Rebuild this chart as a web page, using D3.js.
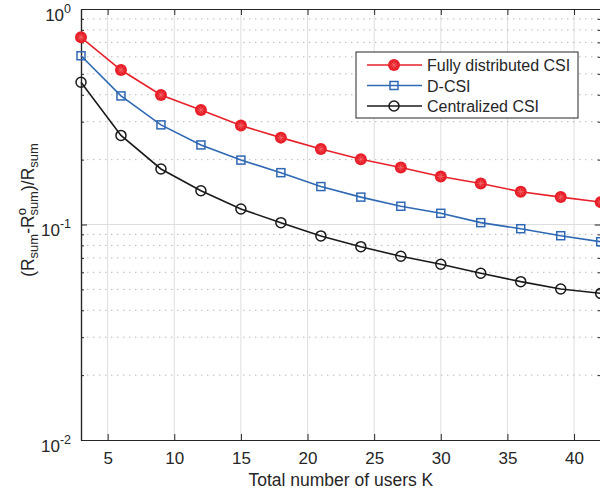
<!DOCTYPE html>
<html>
<head>
<meta charset="utf-8">
<script src="https://cdn.jsdelivr.net/npm/d3@7"></script>
<style>
  body { margin: 0; background: #fff; }
  svg { font-family: "Liberation Sans", Arial, sans-serif; }
</style>
</head>
<body>
<svg id="chart" width="600" height="492"></svg>
<script>
// values
const users = [3, 6, 9, 12, 15, 18, 21, 24, 27, 30, 33, 36, 39, 42];
const fullyDistributed = [0.739, 0.521, 0.399, 0.340, 0.288, 0.253, 0.224, 0.201, 0.184, 0.167, 0.155, 0.142, 0.134, 0.127];
const dCsi = [0.607, 0.395, 0.290, 0.234, 0.199, 0.174, 0.150, 0.134, 0.1215, 0.1127, 0.102, 0.0956, 0.0887, 0.0832];
const centralized = [0.457, 0.259, 0.181, 0.1435, 0.118, 0.102, 0.0885, 0.0789, 0.0712, 0.0654, 0.0594, 0.0543, 0.0502, 0.0479];
const xTicks = [5, 10, 15, 20, 25, 30, 35, 40];
const yTickExps = [-2, -1, 0];
const legendNames = ["Fully distributed CSI", "D-CSI", "Centralized CSI"];

const colors = { red: "#e8202a", blue: "#2f68b4", black: "#1a1a1a" };
const axisColor = "#262626";

const plotLeft = 81, plotRight = 600.7, plotTop = 9, plotBottom = 440;

const x = d3.scaleLinear().domain([3, 42]).range([plotLeft, plotRight]);
const y = d3.scaleLog().domain([0.01, 1]).range([plotBottom, plotTop]);

const svg = d3.select("#chart");

const majorY = yTickExps.map(e => Math.pow(10, e));
const minorY = [];
[-2, -1].forEach(e => {
  for (let m = 2; m <= 9; m++) minorY.push(m * Math.pow(10, e));
});

// grid
const grid = svg.append("g");
grid.selectAll(".vgrid")
  .data(xTicks)
  .enter()
  .append("line")
  .attr("x1", d => x(d)).attr("x2", d => x(d))
  .attr("y1", plotTop).attr("y2", plotBottom)
  .attr("stroke", "#dedede")
  .attr("stroke-width", 1);

grid.selectAll(".mgrid")
  .data(minorY)
  .enter()
  .append("line")
  .attr("x1", plotLeft).attr("x2", plotRight)
  .attr("y1", d => y(d)).attr("y2", d => y(d))
  .attr("stroke", "#b8b8b8")
  .attr("stroke-width", 1)
  .attr("stroke-dasharray", "1.5,4.5");

grid.selectAll(".hgrid")
  .data([0.1])
  .enter()
  .append("line")
  .attr("x1", plotLeft).attr("x2", plotRight)
  .attr("y1", d => y(d)).attr("y2", d => y(d))
  .attr("stroke", "#dedede")
  .attr("stroke-width", 1);

// axes
function styleAxis(g) {
  g.select(".domain").attr("stroke", axisColor).attr("stroke-width", 1.2);
  g.selectAll(".tick line").attr("stroke", axisColor).attr("stroke-width", 1);
  g.selectAll(".tick text").attr("fill", axisColor).style("font-size", "17px");
}

svg.append("g")
  .attr("transform", `translate(0,${plotBottom})`)
  .call(d3.axisBottom(x).tickValues(xTicks).tickSize(-6).tickPadding(12).tickSizeOuter(0))
  .call(styleAxis)
  .call(g => g.selectAll(".tick text").attr("dy", "0.71em"));

svg.append("g")
  .attr("transform", `translate(0,${plotTop})`)
  .call(d3.axisTop(x).tickValues(xTicks).tickSize(-6).tickFormat("").tickSizeOuter(0))
  .call(styleAxis);

const yLeft = svg.append("g")
  .attr("transform", `translate(${plotLeft},0)`)
  .call(d3.axisLeft(y).tickValues(majorY).tickSize(-6).tickPadding(10).tickSizeOuter(0))
  .call(styleAxis);

yLeft.selectAll(".tick text")
  .text(null)
  .attr("dy", "0.66em")
  .each(function (d) {
    const t = d3.select(this);
    t.append("tspan").text("10");
    t.append("tspan")
      .attr("dy", -8)
      .style("font-size", "12.5px")
      .text(Math.round(Math.log10(d)));
  });

svg.append("g")
  .attr("transform", `translate(${plotLeft},0)`)
  .call(d3.axisLeft(y).tickValues(minorY).tickSize(-3).tickFormat("").tickSizeOuter(0))
  .call(styleAxis);

svg.append("g")
  .attr("transform", `translate(${plotRight},0)`)
  .call(d3.axisRight(y).tickValues(majorY).tickSize(-6).tickFormat("").tickSizeOuter(0))
  .call(styleAxis);

svg.append("g")
  .attr("transform", `translate(${plotRight},0)`)
  .call(d3.axisRight(y).tickValues(minorY).tickSize(-3).tickFormat("").tickSizeOuter(0))
  .call(styleAxis);

// axis labels
svg.append("text")
  .attr("x", (plotLeft + plotRight) / 2)
  .attr("y", 486)
  .attr("text-anchor", "middle")
  .attr("fill", axisColor)
  .style("font-size", "17.5px")
  .text("Total number of users K");

const ylab = svg.append("text")
  .attr("transform", "translate(34,210) rotate(-90)")
  .attr("text-anchor", "middle")
  .attr("fill", axisColor)
  .style("font-size", "17.5px");
ylab.append("tspan").text("(R");
ylab.append("tspan").attr("dy", 4).style("font-size", "13px").text("sum");
ylab.append("tspan").attr("dy", -4).text("-R");
ylab.append("tspan").attr("dy", -8).style("font-size", "13px").text("o");
ylab.append("tspan").attr("dx", -7.5).attr("dy", 12).style("font-size", "13px").text("sum");
ylab.append("tspan").attr("dy", -4).text(")/R");
ylab.append("tspan").attr("dy", 4).style("font-size", "13px").text("sum");

// series
const series = [
  { name: legendNames[0], values: fullyDistributed, color: colors.red, marker: "dot" },
  { name: legendNames[1], values: dCsi, color: colors.blue, marker: "square" },
  { name: legendNames[2], values: centralized, color: colors.black, marker: "circle" }
];

function drawMarker(g, type, color) {
  if (type === "dot") {
    g.append("circle").attr("r", 6).attr("fill", color);
    [0, 45, 90, 135].forEach(a => {
      g.append("line")
        .attr("x1", -3.5).attr("x2", 3.5)
        .attr("transform", `rotate(${a})`)
        .attr("stroke", "#f26b6b")
        .attr("stroke-width", 0.7);
    });
  } else if (type === "square") {
    g.append("rect")
      .attr("x", -4).attr("y", -4)
      .attr("width", 8).attr("height", 8)
      .attr("fill", "none")
      .attr("stroke", color)
      .attr("stroke-width", 1.5);
  } else {
    g.append("circle")
      .attr("r", 5)
      .attr("fill", "none")
      .attr("stroke", color)
      .attr("stroke-width", 1.5);
  }
}

const line = d3.line()
  .x(d => x(d[0]))
  .y(d => y(d[1]));

series.forEach(s => {
  const pts = users.map((k, i) => [k, s.values[i]]);
  svg.append("path")
    .datum(pts)
    .attr("fill", "none")
    .attr("stroke", s.color)
    .attr("stroke-width", 1.6)
    .attr("d", line);

  svg.selectAll(null)
    .data(pts)
    .enter()
    .append("g")
    .attr("transform", d => `translate(${x(d[0])},${y(d[1])})`)
    .each(function () { drawMarker(d3.select(this), s.marker, s.color); });
});

// legend
const legend = svg.append("g").attr("transform", "translate(356,52)");
legend.append("rect")
  .attr("width", 222)
  .attr("height", 66)
  .attr("fill", "#fff")
  .attr("stroke", axisColor)
  .attr("stroke-width", 1);

series.forEach((s, i) => {
  const row = legend.append("g").attr("transform", `translate(0,${13 + i * 20.5})`);
  row.append("line")
    .attr("x1", 11).attr("x2", 66)
    .attr("stroke", s.color)
    .attr("stroke-width", 1.6);
  drawMarker(row.append("g").attr("transform", "translate(38,0)"), s.marker, s.color);
  row.append("text")
    .attr("x", 71)
    .attr("y", 6)
    .attr("fill", axisColor)
    .style("font-size", "16px")
    .text(s.name);
});
</script>
</body>
</html>
